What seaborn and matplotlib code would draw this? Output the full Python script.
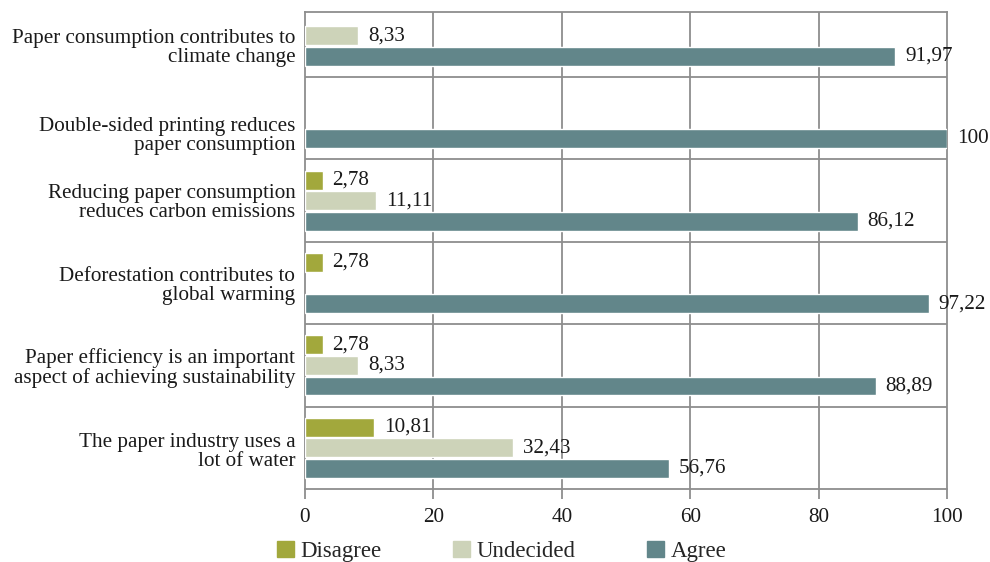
import numpy as np
import pandas as pd
import matplotlib
matplotlib.use("Agg")
import matplotlib.pyplot as plt
import matplotlib.transforms as mtransforms
import seaborn as sns

statements = [
    "Paper consumption contributes to\nclimate change",
    "Double-sided printing reduces\npaper consumption",
    "Reducing paper consumption\nreduces carbon emissions",
    "Deforestation contributes to\nglobal warming",
    "Paper efficiency is an important\naspect of achieving sustainability",
    "The paper industry uses a\nlot of water",
]
responses = ["Disagree", "Undecided", "Agree"]
disagree = [np.nan, np.nan, 2.78, 2.78, 2.78, 10.81]
undecided = [8.33, np.nan, 11.11, np.nan, 8.33, 32.43]
agree = [91.97, 100, 86.12, 97.22, 88.89, 56.76]
x_ticks = [0, 20, 40, 60, 80, 100]

colors = {"Disagree": "#a2a83c", "Undecided": "#cdd3b9", "Agree": "#62868a"}
grid_color = "#8e8e8e"
fs = 15.2

df = pd.DataFrame({
    "statement": np.repeat(statements, 3),
    "response": responses * len(statements),
    "value": np.ravel(np.column_stack([disagree, undecided, agree])),
})

sns.set_theme(style="white")
plt.rcParams["font.family"] = ["Liberation Serif", "DejaVu Serif"]
plt.rcParams["font.size"] = fs

fig = plt.figure(figsize=(9.9, 5.62), dpi=100)
ax = fig.add_axes([305 / 990, 1 - 489 / 562, (947 - 305) / 990, (489 - 12) / 562])

sns.barplot(
    data=df, y="statement", x="value", hue="response",
    hue_order=responses, order=statements, palette=colors,
    orient="h", width=0.75, gap=0.08, saturation=1,
    legend=False, ax=ax, zorder=3,
)

# value labels with decimal commas
for container, resp in zip(ax.containers, responses):
    vals = container.datavalues
    labels = ["" if np.isnan(v) else (f"{v:.2f}".replace(".", ",") if v % 1 else f"{v:.0f}")
              for v in vals]
    ax.bar_label(container, labels=labels, padding=7, fontsize=fs, color="#1a1a1a")

ax.set_xlim(0, 100)
ax.set_ylim(5.5, -0.29)
ax.set_xticks(x_ticks)
ax.set_xticklabels([str(t) for t in x_ticks], color="#1a1a1a")
ax.set_xlabel("")
ax.set_ylabel("")

# vertical gridlines and category separators
for t in x_ticks[1:-1]:
    ax.axvline(t, color=grid_color, lw=1.3, zorder=1)
for b in np.arange(0.5, len(statements) - 1, 1.0):
    ax.axhline(b, color=grid_color, lw=1.3, zorder=1)

for s in ax.spines.values():
    s.set_visible(True)
    s.set_color(grid_color)
    s.set_linewidth(1.3)

ax.tick_params(axis="x", direction="out", length=7, width=1.3, color=grid_color,
               pad=7, bottom=True, labelsize=fs)
ax.tick_params(axis="y", length=0, pad=7, labelsize=fs, labelcolor="#1a1a1a")

# category labels sit slightly lower in the upper rows
label_shift_px = [10, 15, 0, 0, 0, 2]
for lbl, dy in zip(ax.get_yticklabels(), label_shift_px):
    lbl.set_horizontalalignment("right")
    lbl.set_multialignment("right")
    lbl.set_linespacing(1.0)
    lbl.set_transform(lbl.get_transform()
                      + mtransforms.ScaledTranslation(0, -dy / 100, fig.dpi_scale_trans))

handles = [plt.Rectangle((0, 0), 1, 1, color=colors[r]) for r in responses]
fig.legend(handles, responses, loc="upper left", bbox_to_anchor=(272 / 990, 1 - 536 / 562),
           ncol=3, frameon=False, fontsize=16.5, handlelength=0.75, handleheight=0.75,
           handletextpad=0.3, columnspacing=3.1, borderaxespad=0, borderpad=0.2)

fig.savefig("out.png", dpi=100)
